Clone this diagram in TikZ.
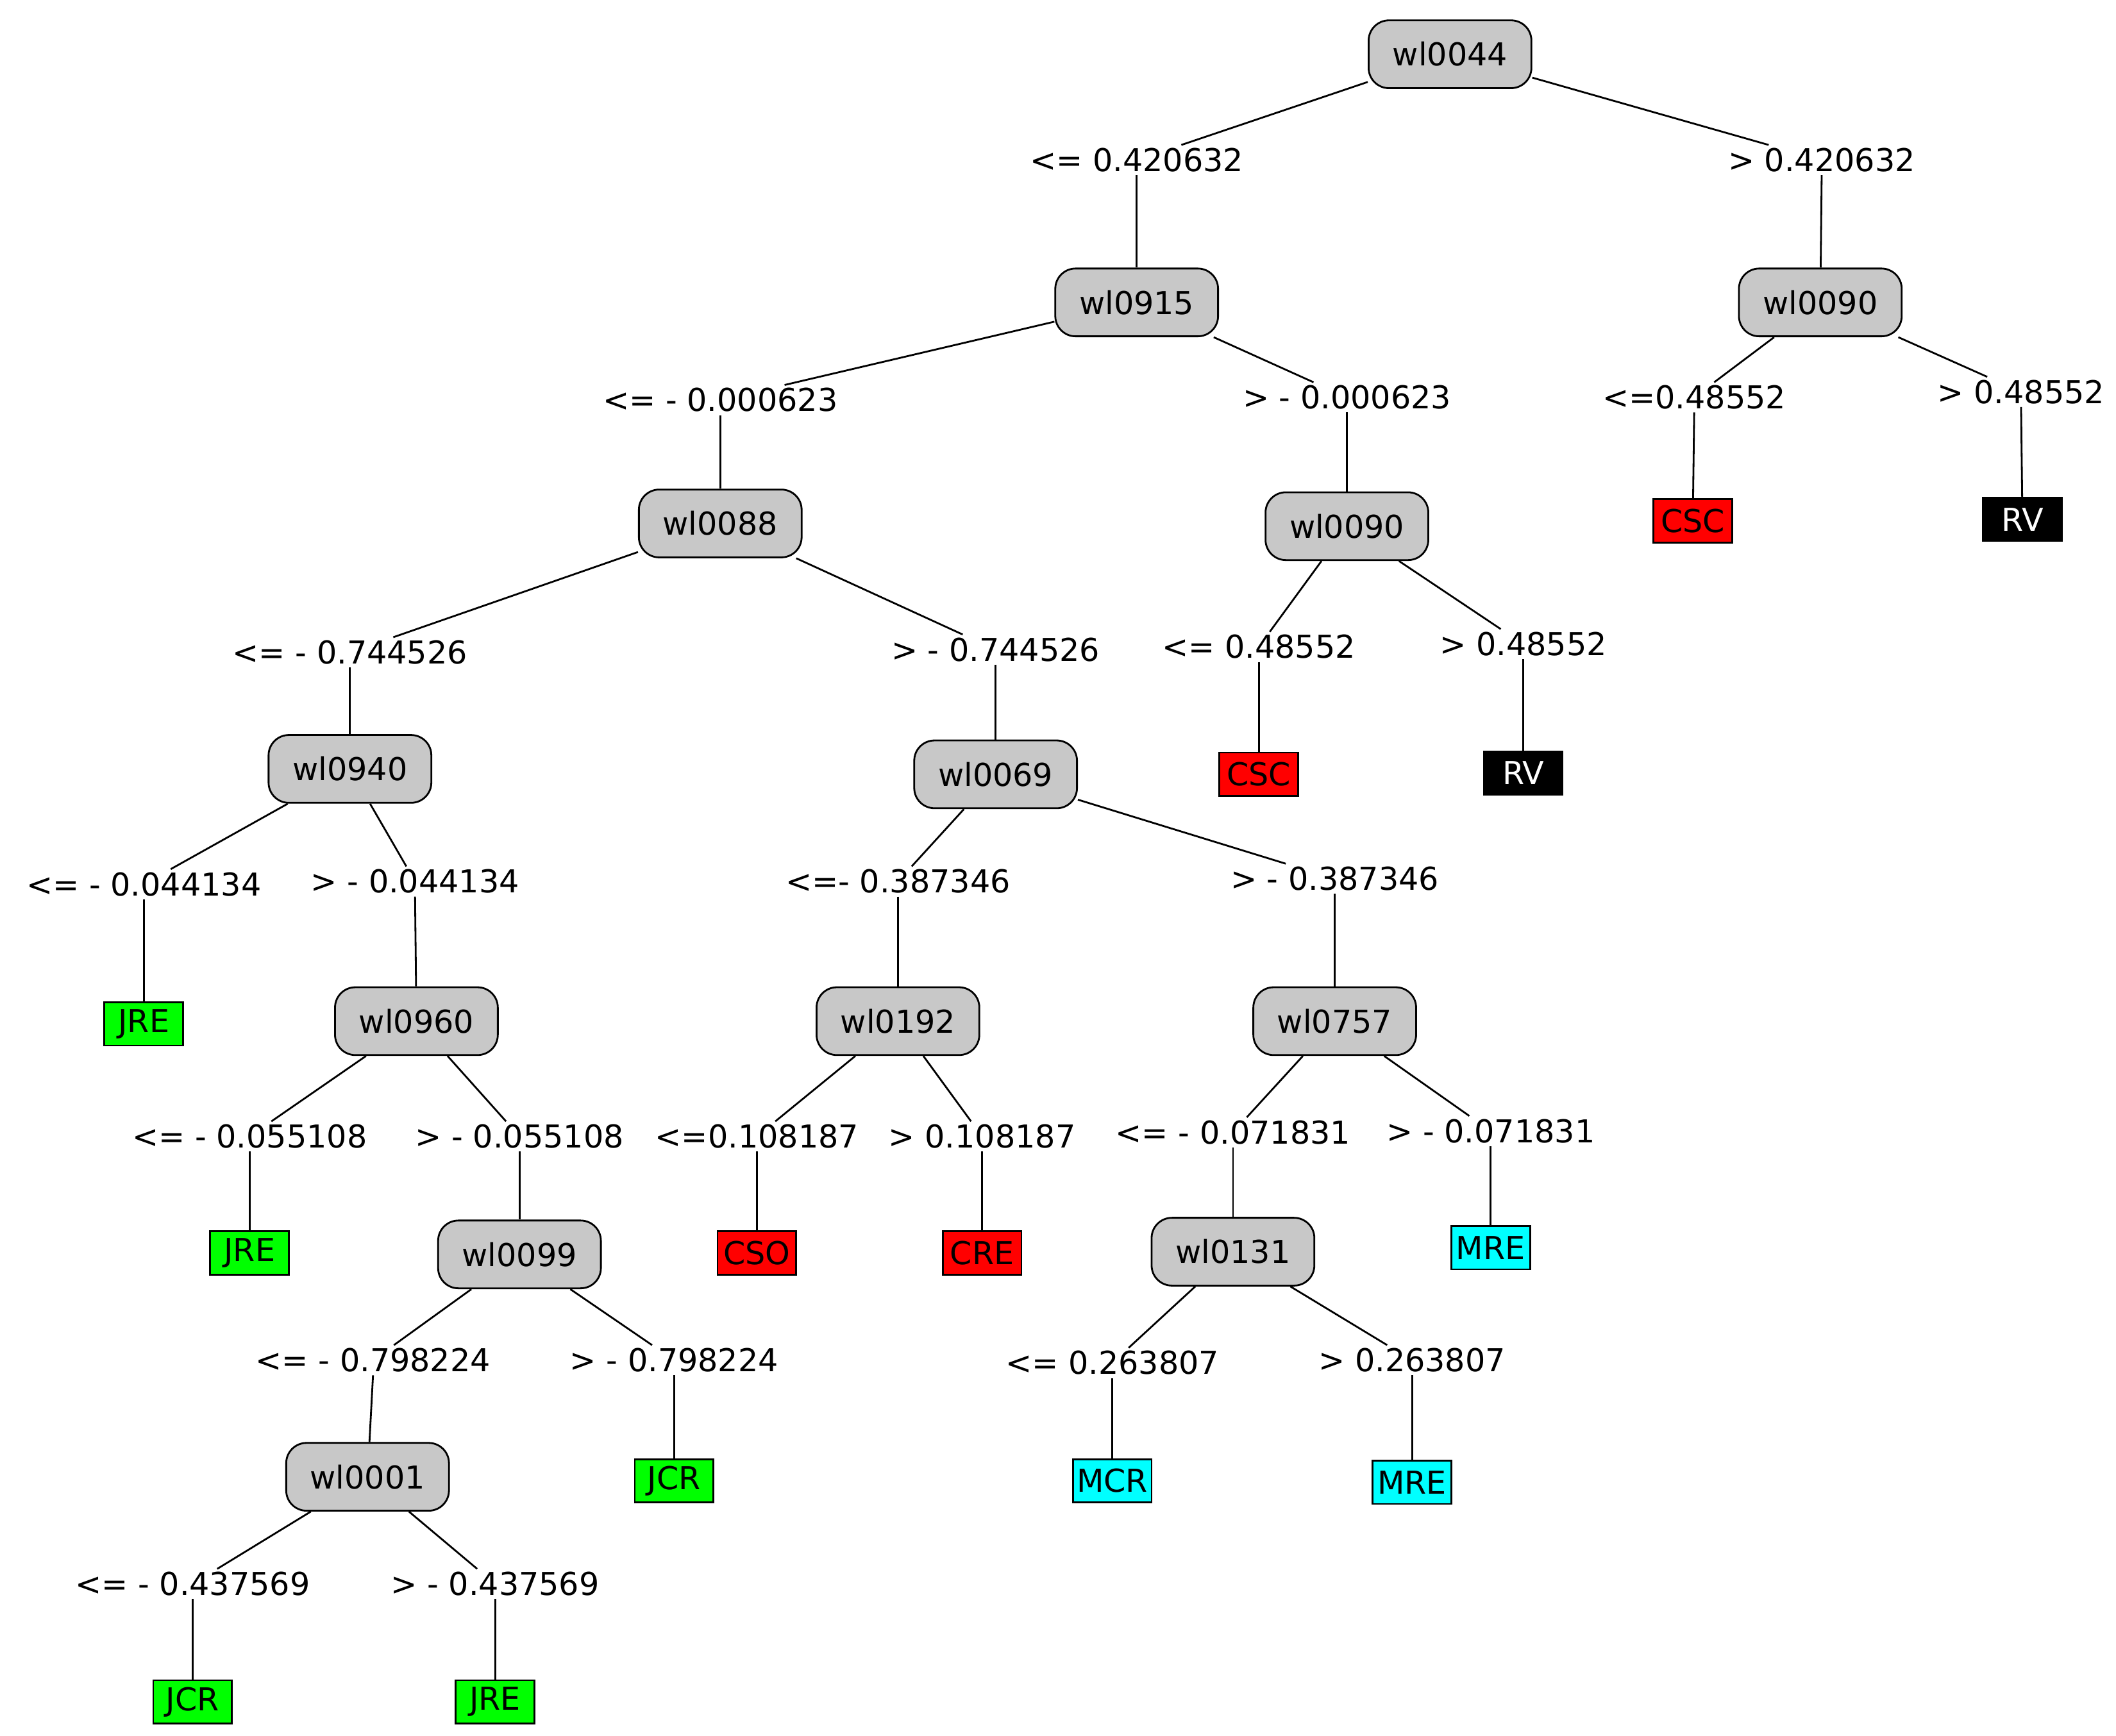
\documentclass[tikz,border=0pt]{standalone}
\usepackage{fontspec}
\setmainfont{DejaVu Sans}
\begin{document}
\begin{tikzpicture}[x=0.02115cm,y=-0.02115cm,
  dec/.style={draw,fill={rgb,255:red,200;green,200;blue,200},rounded corners=9pt,minimum width=120*0.02115cm,minimum height=50*0.02115cm,font=\fontsize{14}{16}\selectfont},
  lab/.style={inner sep=1pt,font=\fontsize{14}{16}\selectfont},
  leaf/.style={draw,minimum width=58*0.02115cm,minimum height=32*0.02115cm,inner sep=1pt,font=\fontsize{14}{16}\selectfont},
  G/.style={leaf,fill={rgb,255:red,0;green,255;blue,0}},
  R/.style={leaf,fill={rgb,255:red,255;green,0;blue,0}},
  C/.style={leaf,fill={rgb,255:red,0;green,255;blue,255}},
  K/.style={leaf,fill=black,text=white},
  every path/.style={line width=0.8pt}]
\useasboundingbox (0,0) rectangle (1560,1280);
\node[dec] (n44) at (1069,40) {wl0044};
\node[lab] (l1) at (838,118) {<= 0.420632};
\node[lab] (g1) at (1343,118) {> 0.420632};
\node[dec] (n915) at (838,223) {wl0915};
\node[dec] (n90a) at (1342,223) {wl0090};
\node[lab] (l2) at (531,295) {<= - 0.000623};
\node[lab] (g2) at (993,293) {> - 0.000623};
\node[lab] (l3) at (1249,293) {<=0.48552};
\node[lab] (g3) at (1490,289) {> 0.48552};
\node[dec] (n88) at (531,386) {wl0088};
\node[dec] (n90b) at (993,388) {wl0090};
\node[R] (csc1) at (1248,384) {CSC};
\node[K] (rv1) at (1491,383) {RV};
\node[lab] (l4) at (258,481) {<= - 0.744526};
\node[lab] (g4) at (734,479) {> - 0.744526};
\node[lab] (l5) at (928,477) {<= 0.48552};
\node[lab] (g5) at (1123,475) {> 0.48552};
\node[dec] (n940) at (258,567) {wl0940};
\node[dec] (n69) at (734,571) {wl0069};
\node[R] (csc2) at (928,571) {CSC};
\node[K] (rv2) at (1123,570) {RV};
\node[lab] (l6) at (106,652) {<= - 0.044134};
\node[lab] (g6) at (306,650) {> - 0.044134};
\node[lab] (l7) at (662,650) {<=- 0.387346};
\node[lab] (g7) at (984,648) {> - 0.387346};
\node[G] (jre1) at (106,755) {JRE};
\node[dec] (n960) at (307,753) {wl0960};
\node[dec] (n192) at (662,753) {wl0192};
\node[dec] (n757) at (984,753) {wl0757};
\node[lab] (l8) at (184,838) {<= - 0.055108};
\node[lab] (g8) at (383,838) {> - 0.055108};
\node[lab] (l9) at (558,838) {<=0.108187};
\node[lab] (g9) at (724,838) {> 0.108187};
\node[lab] (l10) at (909,835) {<= - 0.071831};
\node[lab] (g10) at (1099,834) {> - 0.071831};
\node[G] (jre2) at (184,924) {JRE};
\node[dec] (n99) at (383,925) {wl0099};
\node[R] (cso) at (558,924) {CSO};
\node[R] (cre) at (724,924) {CRE};
\node[dec] (n131) at (909,923) {wl0131};
\node[C] (mre1) at (1099,920) {MRE};
\node[lab] (l11) at (275,1003) {<= - 0.798224};
\node[lab] (g11) at (497,1003) {> - 0.798224};
\node[lab] (l12) at (820,1005) {<= 0.263807};
\node[lab] (g12) at (1041,1003) {> 0.263807};
\node[dec] (n1) at (271,1089) {wl0001};
\node[G] (jcr1) at (497,1092) {JCR};
\node[C] (mcr) at (820,1092) {MCR};
\node[C] (mre2) at (1041,1093) {MRE};
\node[lab] (l13) at (142,1168) {<= - 0.437569};
\node[lab] (g13) at (365,1168) {> - 0.437569};
\node[G] (jcr2) at (142,1255) {JCR};
\node[G] (jre3) at (365,1255) {JRE};
\foreach \p/\l/\g/\a/\b in {n44/l1/g1/n915/n90a, n915/l2/g2/n88/n90b, n90a/l3/g3/csc1/rv1,
  n88/l4/g4/n940/n69, n90b/l5/g5/csc2/rv2, n940/l6/g6/jre1/n960, n69/l7/g7/n192/n757,
  n960/l8/g8/jre2/n99, n192/l9/g9/cso/cre, n757/l10/g10/n131/mre1,
  n99/l11/g11/n1/jcr1, n131/l12/g12/mcr/mre2, n1/l13/g13/jcr2/jre3}{
  \draw (\p) -- (\l); \draw (\p) -- (\g);
  \draw (\l.south) -- (\a); \draw (\g.south) -- (\b);}
\end{tikzpicture}
\end{document}
